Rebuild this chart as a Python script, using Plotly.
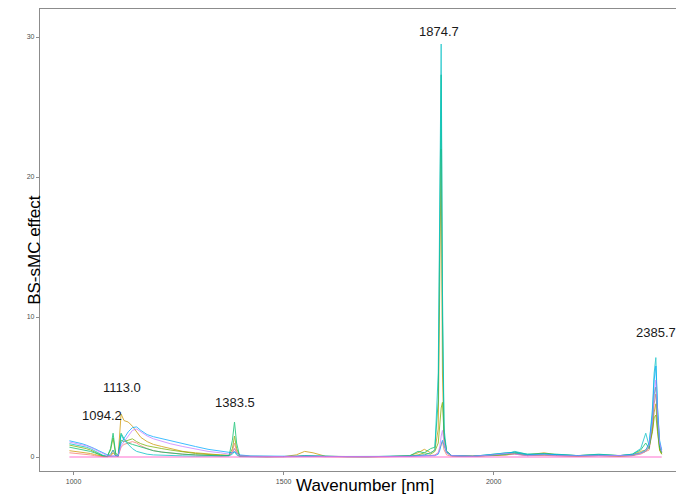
import plotly.graph_objects as go

wavenumber = [990, 1000, 1010, 1020, 1030, 1040, 1050, 1060, 1070, 1080,
              1088, 1094, 1100, 1106, 1113, 1120, 1130, 1140, 1150, 1160,
              1175, 1190, 1210, 1230, 1260, 1290, 1320, 1350, 1370, 1378,
              1383, 1388, 1395, 1420, 1460, 1500, 1530, 1550, 1570, 1600,
              1650, 1700, 1750, 1800, 1820, 1835, 1850, 1860, 1868, 1872,
              1875, 1878, 1882, 1888, 1900, 1950, 2000, 2030, 2050, 2080,
              2120, 2150, 2200, 2250, 2300, 2330, 2350, 2362, 2370, 2378,
              2382, 2386, 2390, 2395, 2400]

s1 = [0.30, 0.28, 0.25, 0.22, 0.20, 0.15, 0.10, 0.05, 0.02, 0.02,
      0.10, 0.50, 0.10, 0.05, 0.70, 0.90, 1.00, 1.10, 1.00, 0.80,
      0.60, 0.45, 0.35, 0.28, 0.20, 0.15, 0.10, 0.08, 0.10, 0.40,
      1.00, 0.40, 0.05, 0.02, 0.01, 0.02, 0.05, 0.08, 0.05, 0.02,
      0.01, 0.01, 0.02, 0.05, 0.10, 0.15, 0.10, 0.15, 0.30, 0.60,
      0.90, 1.10, 0.50, 0.15, 0.05, 0.05, 0.10, 0.15, 0.20, 0.10,
      0.12, 0.08, 0.05, 0.10, 0.05, 0.10, 0.20, 0.40, 0.50, 2.00,
      3.80, 4.50, 2.50, 0.80, 0.30]
s2 = [0.45, 0.42, 0.38, 0.35, 0.30, 0.25, 0.18, 0.10, 0.05, 0.03,
      0.05, 0.30, 0.10, 0.05, 3.07, 2.60, 2.50, 2.20, 1.80, 1.40,
      1.10, 0.90, 0.75, 0.60, 0.40, 0.30, 0.20, 0.15, 0.12, 0.30,
      0.60, 0.30, 0.05, 0.03, 0.02, 0.03, 0.15, 0.40, 0.30, 0.05,
      0.02, 0.02, 0.03, 0.10, 0.30, 0.55, 0.30, 0.50, 2.00, 12.0,
      22.0, 6.00, 1.00, 0.30, 0.10, 0.05, 0.15, 0.20, 0.30, 0.15,
      0.30, 0.15, 0.10, 0.15, 0.10, 0.15, 0.40, 0.50, 0.80, 2.00,
      3.20, 3.80, 2.00, 0.50, 0.20]
s3 = [0.85, 0.80, 0.75, 0.70, 0.60, 0.50, 0.35, 0.20, 0.08, 0.03,
      0.50, 1.36, 0.20, 0.05, 1.20, 1.10, 1.20, 1.30, 1.10, 0.95,
      0.80, 0.70, 0.60, 0.50, 0.35, 0.25, 0.18, 0.12, 0.10, 0.60,
      1.50, 0.60, 0.10, 0.05, 0.03, 0.03, 0.05, 0.08, 0.05, 0.03,
      0.02, 0.02, 0.03, 0.05, 0.15, 0.30, 0.20, 0.40, 1.00, 2.50,
      3.50, 3.90, 1.50, 0.40, 0.10, 0.05, 0.10, 0.15, 0.25, 0.10,
      0.15, 0.10, 0.05, 0.10, 0.05, 0.10, 0.30, 0.40, 0.70, 1.80,
      2.80, 3.00, 1.80, 0.50, 0.20]
s4 = [0.70, 0.65, 0.60, 0.55, 0.48, 0.40, 0.30, 0.18, 0.08, 0.03,
      0.60, 1.70, 0.30, 0.10, 1.70, 1.30, 1.00, 0.90, 0.80, 0.70,
      0.55, 0.45, 0.35, 0.28, 0.20, 0.15, 0.10, 0.08, 0.10, 1.20,
      2.50, 1.00, 0.10, 0.03, 0.02, 0.02, 0.05, 0.10, 0.08, 0.03,
      0.02, 0.02, 0.03, 0.08, 0.40, 0.30, 0.60, 0.70, 4.00, 18.0,
      27.3, 10.0, 1.50, 0.40, 0.10, 0.05, 0.20, 0.30, 0.35, 0.20,
      0.25, 0.20, 0.10, 0.20, 0.10, 0.20, 0.50, 1.00, 0.60, 2.50,
      4.50, 5.00, 2.50, 0.70, 0.30]
s5 = [0.95, 0.90, 0.85, 0.80, 0.70, 0.60, 0.45, 0.30, 0.12, 0.05,
      0.20, 0.50, 0.10, 0.05, 1.60, 1.20, 0.90, 0.60, 0.40, 0.30,
      0.20, 0.15, 0.12, 0.10, 0.08, 0.06, 0.05, 0.05, 0.08, 0.20,
      0.40, 0.15, 0.03, 0.02, 0.02, 0.02, 0.03, 0.05, 0.04, 0.02,
      0.02, 0.02, 0.03, 0.05, 0.10, 0.15, 0.30, 0.50, 6.00, 20.0,
      29.5, 12.0, 2.00, 0.40, 0.10, 0.05, 0.15, 0.20, 0.40, 0.20,
      0.20, 0.15, 0.10, 0.15, 0.10, 0.20, 0.60, 1.70, 0.80, 3.50,
      6.00, 7.10, 3.50, 1.00, 0.40]
s6 = [1.16, 1.10, 1.00, 0.95, 0.85, 0.75, 0.60, 0.45, 0.30, 0.15,
      0.05, 0.05, 0.05, 0.10, 1.00, 1.30, 1.80, 2.10, 2.15, 1.90,
      1.60, 1.45, 1.30, 1.15, 0.95, 0.75, 0.55, 0.40, 0.30, 0.30,
      0.35, 0.25, 0.15, 0.08, 0.05, 0.04, 0.05, 0.08, 0.06, 0.04,
      0.03, 0.02, 0.03, 0.05, 0.08, 0.10, 0.10, 0.10, 0.20, 0.50,
      0.90, 1.20, 0.80, 0.30, 0.10, 0.05, 0.20, 0.30, 0.30, 0.15,
      0.20, 0.15, 0.10, 0.15, 0.10, 0.15, 0.30, 0.50, 1.00, 3.00,
      5.50, 6.50, 3.50, 1.20, 0.50]
s7 = [1.07, 1.00, 0.95, 0.90, 0.80, 0.70, 0.55, 0.40, 0.25, 0.10,
      0.05, 0.10, 0.05, 0.10, 0.80, 1.10, 1.50, 1.90, 2.00, 1.80,
      1.50, 1.30, 1.10, 0.95, 0.75, 0.55, 0.40, 0.30, 0.20, 0.30,
      0.60, 0.30, 0.10, 0.05, 0.03, 0.03, 0.05, 0.06, 0.05, 0.03,
      0.02, 0.02, 0.02, 0.04, 0.06, 0.08, 0.08, 0.10, 0.30, 0.80,
      1.50, 1.90, 1.00, 0.30, 0.10, 0.05, 0.15, 0.25, 0.20, 0.10,
      0.15, 0.10, 0.08, 0.10, 0.08, 0.12, 0.25, 0.40, 0.80, 2.50,
      4.50, 5.50, 3.00, 1.00, 0.40]
s8 = [0, 0, 0, 0, 0, 0, 0, 0, 0, 0, 0, 0, 0, 0, 0, 0, 0, 0, 0, 0,
      0, 0, 0, 0, 0, 0, 0, 0, 0, 0, 0, 0, 0, 0, 0, 0, 0, 0, 0, 0,
      0, 0, 0, 0, 0, 0, 0, 0, 0, 0, 0, 0, 0, 0, 0, 0, 0, 0, 0, 0,
      0, 0, 0, 0, 0, 0, 0, 0, 0, 0, 0, 0, 0, 0, 0]

series = [s1, s2, s3, s4, s5, s6, s7, s8]
colors = ["#F8766D", "#CD9600", "#7CAE00", "#00BE67",
          "#00BFC4", "#00A9FF", "#C77CFF", "#FF61CC"]

peak_labels = ["1094.2", "1113.0", "1383.5", "1874.7", "2385.7"]
label_x = [1068, 1116, 1385, 1870, 2386]
label_y = [2.93, 5.0, 3.86, 30.36, 8.9]

x_ticks = [1000, 1500, 2000]
y_ticks = [0, 10, 20, 30]

FONT = "Liberation Sans, Arial, sans-serif"

fig = go.Figure()
for i, (ys, c) in enumerate(zip(series, colors)):
    fig.add_trace(go.Scatter(
        x=wavenumber, y=ys, mode="lines",
        line=dict(color=c, width=2 if i == 7 else 1),
        opacity=0.45 if i == 7 else 0.75,
        showlegend=False, hoverinfo="skip"))

for t, lx, ly in zip(peak_labels, label_x, label_y):
    fig.add_annotation(x=lx, y=ly, text=t, showarrow=False,
                       font=dict(size=13, color="#1a1a1a", family=FONT))

fig.add_annotation(xref="paper", yref="paper", x=0.511, y=-0.056,
                   text="Wavenumber [nm]", showarrow=False,
                   font=dict(size=17, color="black", family=FONT))
fig.add_annotation(xref="paper", yref="paper", x=-0.028, y=0.478,
                   text="BS-sMC effect", showarrow=False, textangle=-90,
                   font=dict(size=17, color="black", family=FONT))

axis_common = dict(showgrid=False, zeroline=False, showline=True,
                   linecolor="#8c8c8c", linewidth=1.2, mirror=True,
                   ticks="outside", ticklen=3, tickcolor="#8c8c8c",
                   tickfont=dict(size=7, color="#4d4d4d", family=FONT))

fig.update_layout(
    width=676, height=504,
    margin=dict(l=40, r=0, t=9, b=33, autoexpand=False),
    paper_bgcolor="white", plot_bgcolor="white",
    xaxis=dict(range=[920, 2434], tickvals=x_ticks, **axis_common),
    yaxis=dict(range=[-1, 32], tickvals=y_ticks, **axis_common),
)

fig.write_html("out.html",
               config={"displayModeBar": False},
               post_script="document.body.style.margin='0';"
                           "document.body.style.overflow='hidden';")
